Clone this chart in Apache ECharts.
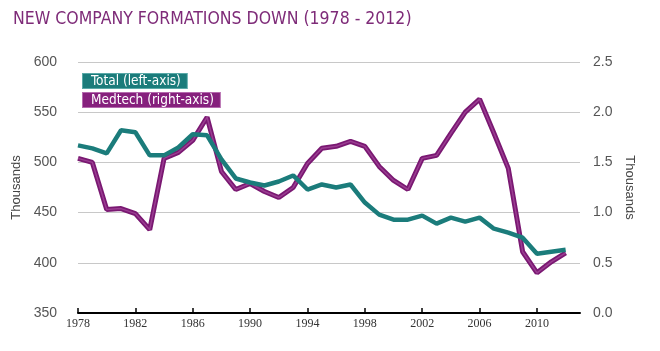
<!DOCTYPE html>
<html><head><meta charset="utf-8">
<script src="https://cdn.jsdelivr.net/npm/echarts@6/dist/echarts.min.js"></script>
<style>html,body{margin:0;padding:0;background:#fff}#c{width:660px;height:351px}</style>
</head><body><div id="c"></div>
<script>
var years = ['1978','1979','1980','1981','1982','1983','1984','1985','1986','1987','1988','1989','1990','1991','1992','1993','1994','1995','1996','1997','1998','1999','2000','2001','2002','2003','2004','2005','2006','2007','2008','2009','2010','2011','2012',''];
var totalValues = [517,514,509,532,530,507,507,515,528,527,503,484,480,477,481,487,473,478,475,478,460,448,443,443,447,439,445,441,445,434,430,425,409,411,413];
var medtechValues = [1.54,1.50,1.03,1.04,0.99,0.83,1.54,1.60,1.72,1.95,1.41,1.23,1.29,1.21,1.15,1.25,1.49,1.64,1.66,1.71,1.66,1.46,1.32,1.23,1.54,1.57,1.79,2.00,2.13,1.79,1.44,0.61,0.40,0.51,0.60];
var leftTicks = [350,400,450,500,550,600];
var rightTicks = [0,0.5,1.0,1.5,2.0,2.5];
var titleText = 'NEW COMPANY FORMATIONS DOWN (1978 - 2012)';
var totalName = 'Total (left-axis)';
var medName = 'Medtech (right-axis)';

var TEAL = '#1b7c7b', PURPLE = '#86207d';
var NARROW = "'Liberation Sans Narrow','DejaVu Sans Condensed',sans-serif";
var chart = echarts.init(document.getElementById('c'), null, {renderer:'canvas'});
chart.setOption({
  animation:false,
  title:{text:titleText,left:8,top:5,textStyle:{fontFamily:NARROW,fontSize:17.5,fontWeight:'normal',color:'#7e2b78'}},
  legend:{orient:'vertical',left:73,top:68,itemGap:3,itemWidth:0,itemHeight:0,selectedMode:false,
    data:[
      {name:totalName,icon:'rect',textStyle:{color:'#fff',backgroundColor:TEAL,borderColor:'#5aa9a8',borderWidth:1,padding:[0,6,0,8],lineHeight:14,fontSize:13.5,fontFamily:NARROW}},
      {name:medName,icon:'rect',textStyle:{color:'#fff',backgroundColor:PURPLE,borderColor:'#b56aae',borderWidth:1,padding:[0,6,0,8],lineHeight:14,fontSize:13.5,fontFamily:NARROW}}
    ]},
  grid:{left:78,right:80,top:62,bottom:38},
  xAxis:{type:'category',data:years,boundaryGap:false,
    axisLine:{lineStyle:{color:'#000',width:2}},
    axisTick:{inside:true,length:5,interval:3,lineStyle:{color:'#000',width:1.5}},
    axisLabel:{interval:3,color:'#333',fontSize:12,fontFamily:"'Liberation Serif',serif",margin:5},
    splitLine:{show:false}},
  yAxis:[
    {type:'value',min:350,max:600,interval:50,name:'Thousands',nameLocation:'middle',nameGap:47,
     nameTextStyle:{color:'#444',fontSize:13,fontFamily:"'Liberation Sans',sans-serif"},
     axisLine:{show:false},axisTick:{show:false},
     axisLabel:{margin:21,color:'#555',fontSize:14,fontFamily:"'Liberation Sans',sans-serif",formatter:function(v){return leftTicks.indexOf(v)>=0?String(v):'';}},
     splitLine:{lineStyle:{color:'#c8c8c8',width:1.2}}},
    {type:'value',min:0,max:2.5,interval:0.5,name:'Thousands',nameLocation:'middle',nameGap:27,nameRotate:-90,
     nameTextStyle:{color:'#444',fontSize:13,fontFamily:"'Liberation Sans',sans-serif"},
     axisLine:{show:false},axisTick:{show:false},
     axisLabel:{margin:13,color:'#555',fontSize:14,fontFamily:"'Liberation Sans',sans-serif",formatter:function(v){var i=rightTicks.indexOf(Math.round(v*10)/10);return i>=0?rightTicks[i].toFixed(1):'';}},
     splitLine:{show:false}}
  ],
  series:[
    {name:medName,type:'line',yAxisIndex:1,data:medtechValues,symbol:'none',lineStyle:{color:'#7a1872',width:5},itemStyle:{color:PURPLE},z:2},
    {name:'medOverlay',type:'line',yAxisIndex:1,data:medtechValues,symbol:'none',silent:true,lineStyle:{color:'#9a3d91',width:1.5},z:3},
    {name:totalName,type:'line',yAxisIndex:0,data:totalValues,symbol:'none',lineStyle:{color:TEAL,width:4.5},itemStyle:{color:TEAL},z:4}
  ]
});
</script></body></html>
